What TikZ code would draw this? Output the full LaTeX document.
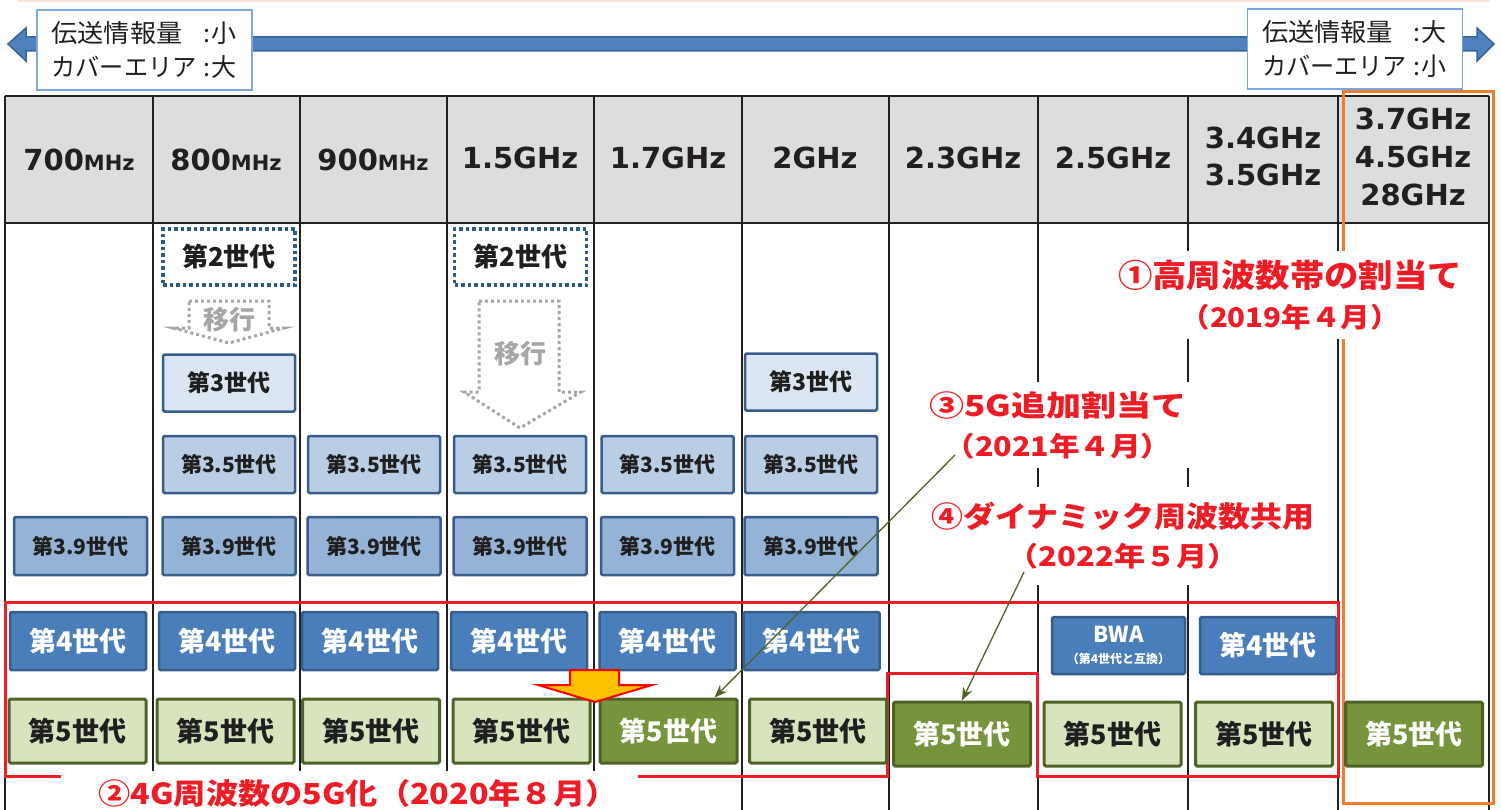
\documentclass[tikz,border=0pt]{standalone}
\usepackage{fontspec}
\usepackage{graphicx}
\newfontfamily\jp{Noto Sans CJK JP}
\newfontfamily\dv{DejaVu Sans}
\usetikzlibrary{arrows.meta,calc}
\newcommand\jfs[1]{\fontsize{#1}{#1}\selectfont}
\newcommand\tbline[2]{\makebox[150pt][l]{#1}\makebox[10pt][c]{:}#2}
\definecolor{gridc}{HTML}{231F20}
\definecolor{hdrc}{HTML}{DCDDDE}
\definecolor{peach}{HTML}{FBE4D5}
\definecolor{arrb}{HTML}{4F81BD}
\definecolor{arrd}{HTML}{3A6496}
\definecolor{lblue}{HTML}{7EA6E0}
\definecolor{bbord}{HTML}{385D8A}
\definecolor{dotb}{HTML}{2E5C8A}
\definecolor{f3}{HTML}{DCE6F2}
\definecolor{f35}{HTML}{B9CDE5}
\definecolor{f39}{HTML}{95B3D7}
\definecolor{f4}{HTML}{4A7EBB}
\definecolor{f5l}{HTML}{D7E4BD}
\definecolor{f5d}{HTML}{77933C}
\definecolor{g5b}{HTML}{4F6228}
\definecolor{redc}{HTML}{EE1C25}
\definecolor{orc}{HTML}{ED7D31}
\definecolor{grayt}{HTML}{A6A6A6}
\definecolor{txt}{HTML}{1F1F1F}
\definecolor{gold}{HTML}{FFC000}
\tikzset{
  gridl/.style={draw=gridc, line width=2pt},
  hd/.style={font=\dv\bfseries\fontsize{29}{37}\selectfont, text=gridc, align=center, inner sep=0pt},
  topbox/.style={draw=lblue, line width=1.2pt, fill=white, inner xsep=14.5pt, inner ysep=0pt,
     text width=186pt, minimum height=80pt, align=left, font=\jp\fontsize{25}{34}\selectfont, text=txt},
  gbox/.style={rounded corners=1.5pt, inner sep=0pt, line width=2.5pt, draw=bbord, text=txt,
     font=\jp\bfseries\jfs{21}, minimum width=132pt, minimum height=57pt},
  gtwo/.style={gbox, rounded corners=0pt, draw=dotb, fill=white, line width=3.5pt,
     dash pattern=on 3.5pt off 3pt, font=\jp\bfseries\jfs{26}, minimum height=56pt},
  gthree/.style={gbox, fill=f3, font=\jp\bfseries\jfs{23}},
  gtf/.style={gbox, fill=f35},
  gtn/.style={gbox, fill=f39, minimum width=133pt, minimum height=58pt},
  gfour/.style={gbox, fill=f4, text=white, font=\jp\bfseries\jfs{27}, minimum width=136pt, minimum height=58pt},
  gfive/.style={gbox, draw=g5b, line width=3pt, fill=f5l, font=\jp\bfseries\jfs{27}, minimum width=137pt, minimum height=64pt},
  gfived/.style={gfive, fill=f5d, text=white},
  migr/.style={draw=grayt, line width=3pt, dash pattern=on 3pt off 3pt},
  migt/.style={text=grayt, font=\jp\bfseries\jfs{26}, inner sep=0pt},
  lbl/.style={fill=white, inner sep=0pt, text=redc, align=center, font=\jp\bfseries\fontsize{30}{40}\selectfont},
  conn/.style={draw=g5b, line width=1.3pt, -{Stealth[length=13pt,width=10pt]}},
}
\begin{document}
\begin{tikzpicture}[x=1pt,y=-1pt]
\useasboundingbox (0,0) rectangle (1501,810);
% faint top line
\draw[peach, line width=1.6pt] (18,0.8) -- (1490,0.8);
% top double arrow
\draw[fill=arrb, draw=arrd, line width=1.5pt, line join=miter]
  (8,44) -- (26,28) -- (26,37) -- (1477,37) -- (1477,28) -- (1494,44) -- (1477,61) -- (1477,51) -- (26,51) -- (26,61) -- cycle;
\node[topbox] (tl) at (144.5,50) {\tbline{\resizebox{131pt}{\height}{伝送情報量}}{小}\\\tbline{\resizebox{145pt}{\height}{カバーエリア}}{大}};
\node[topbox] (tr) at (1355,49) {\tbline{\resizebox{131pt}{\height}{伝送情報量}}{大}\\\tbline{\resizebox{145pt}{\height}{カバーエリア}}{小}};
% header
\fill[hdrc] (5,96) rectangle (1489,223);
\draw[gridl] (5,96) -- (1489,96);
\draw[gridl] (5,223) -- (1489,223);
\foreach \x in {5,153,300,447,594,742,889,1038,1188,1338,1489}
  \draw[gridl] (\x,96) -- (\x,811);
\node[hd] (h1) at (79,160) {700{\jfs{21}MHz}};
\node[hd] (h2) at (226,160) {800{\jfs{21}MHz}};
\node[hd] (h3) at (373,160) {900{\jfs{21}MHz}};
\node[hd] (h4) at (520,158) {1.5GHz};
\node[hd] (h5) at (668,158) {1.7GHz};
\node[hd] (h6) at (815,158) {2GHz};
\node[hd] (h7) at (963,158) {2.3GHz};
\node[hd] (h8) at (1113,158) {2.5GHz};
\node[hd] (h9) at (1263,156) {3.4GHz\\3.5GHz};
\node[hd, font=\dv\bfseries\fontsize{29}{38}\selectfont] (h10) at (1413,157) {3.7GHz\\4.5GHz\\28GHz};
% frames
\draw[orc, line width=3pt] (1343,92) rectangle (1493,803);
\draw[redc, line width=3pt, line join=miter]
  (5,602) -- (1338,602) -- (1338,776) -- (1037,776) -- (1037,673) -- (887,673) -- (887,776) -- (5,776) -- cycle;
% 2nd generation
\node[gtwo] (g2a) at (229,257) {第2世代};
\node[gtwo] (g2b) at (520.5,257) {第2世代};
% migration arrows
\draw[migr] (189,301) -- (269,301) -- (269,328) -- (284,328) -- (229,343) -- (173,328) -- (189,328) -- cycle;
\node[migt] (m1) at (229,320) {移行};
\draw[migr] (479,301) -- (559,301) -- (559,392) -- (581,392) -- (520,428) -- (464,392) -- (479,392) -- cycle;
\node[migt] (m2) at (520,354) {移行};
% 3rd
\node[gthree] (g3a) at (229,383) {第3世代};
\node[gthree] (g3b) at (811,382) {第3世代};
% 3.5
\foreach \x/\n in {229/a,374/b,520/c,667.5/d,811/e}
  \node[gtf] (g35\n) at (\x,464.5) {第3.5世代};
% 3.9
\foreach \x/\n in {80.5/a,229/b,374/c,520/d,667.5/e,811/f}
  \node[gtn] (g39\n) at (\x,546) {第3.9世代};
% 4th
\foreach \x/\n in {78/a,227/b,370/c,519/d,667.5/e,811.5/f}
  \node[gfour] (g4\n) at (\x,641) {第4世代};
\node[gfour, minimum width=133pt, minimum height=57pt, align=center, font=\jp\bfseries\fontsize{22}{22}\selectfont] (bwa) at (1118.5,645.5)
  {BWA\\[-1pt]{\fontsize{12}{12}\selectfont （第4世代と互換）}};
\node[gfour, minimum height=57pt] (g4g) at (1268,645.5) {第4世代};
% 5th
\node[gfive] (g5a) at (77.5,731) {第5世代};
\node[gfive] (g5b) at (225.5,731) {第5世代};
\node[gfive] (g5c) at (371,731) {第5世代};
\node[gfive] (g5d) at (521.5,731) {第5世代};
\node[gfived] (g5e) at (668.5,731) {第5世代};
\node[gfive] (g5f) at (818,731) {第5世代};
\node[gfived] (g5g) at (962,734) {第5世代};
\node[gfive] (g5h) at (1112.5,734) {第5世代};
\node[gfive] (g5i) at (1264,734) {第5世代};
\node[gfived] (g5j) at (1414,734) {第5世代};
% yellow arrow
\draw[fill=gold, draw=red, line width=2pt, line join=miter]
  (570,670) -- (619,670) -- (619,685) -- (652,685) -- (595,702) -- (538,685) -- (570,685) -- cycle;
% labels
\node[lbl, minimum width=362pt, minimum height=88pt] (l1) at (1290,295)
  {\scalebox{1.075}[1]{\jfs{32}①高周波数帯の割当て}\\\scalebox{1.09}[1]{\jfs{27}（2019年４月）}};
\node[lbl, minimum width=280pt, minimum height=86pt] (l3) at (1058,425)
  {\scalebox{1.21}[1]{\jfs{29}③5G追加割当て}\\\scalebox{1.13}[1]{\jfs{27}（2021年４月）}};
\node[lbl, minimum width=395pt, minimum height=98pt, font=\jp\bfseries\fontsize{30}{39}\selectfont] (l4) at (1123,536)
  {\scalebox{1.1}[1]{\jfs{29}④ダイナミック周波数共用}\\\scalebox{1.15}[1]{\jfs{27}（2022年５月）}};
\node[lbl, minimum width=577pt, minimum height=44pt] (l2) at (349.5,793)
  {\hspace{17pt}\scalebox{1.11}[1]{\jfs{29}②4G周波数の5G化（2020年８月）}};
% connectors
\coordinate (a3) at (955,455);
\coordinate (a4) at (1024,572);
\draw[conn] (a3) -- ([xshift=-24pt]g5e.north east);
\draw[conn] (a4) -- (g5g.north);
\end{tikzpicture}
\end{document}
